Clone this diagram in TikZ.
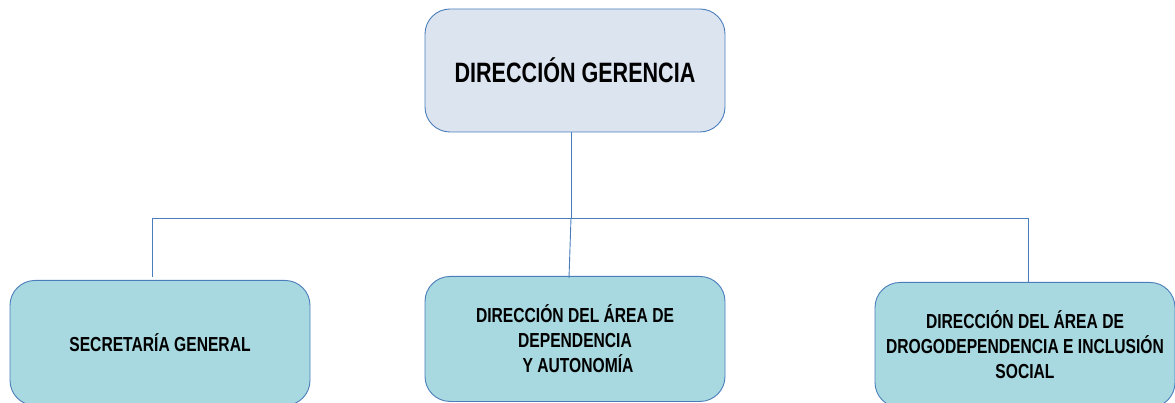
\documentclass[tikz,border=0pt]{standalone}
\usepackage{fontspec}
\newfontfamily\narrowfont[FakeStretch=0.77]{Liberation Sans Bold}
\definecolor{lineblue}{HTML}{4A7EBB}
\definecolor{topfill}{HTML}{DCE4F0}
\definecolor{boxfill}{HTML}{A8D8E0}
\tikzset{
  topbox/.style={draw=lineblue, line width=0.9pt, fill=topfill, rounded corners=25pt,
    minimum width=300pt, minimum height=123pt, inner sep=0pt,
    font=\narrowfont\fontsize{28}{30}\selectfont, text=black},
  unitbox/.style={draw=lineblue, line width=0.9pt, fill=boxfill, rounded corners=25pt,
    minimum width=300pt, minimum height=125pt, inner sep=0pt, align=center, anchor=north,
    font=\narrowfont\fontsize{20.3}{25}\selectfont, text=black},
  conn/.style={draw=lineblue, line width=0.9pt}
}
\begin{document}
\begin{tikzpicture}[x=1pt,y=-1pt]
\useasboundingbox (0,0) rectangle (1175,403);
\node[topbox] (top) at (575,70.5) {DIRECCIÓN GERENCIA};
\node[unitbox] (sg) at (160,280) {SECRETARÍA GENERAL};
\node[unitbox] (dad) at (575,276) {DIRECCIÓN DEL ÁREA DE\\DEPENDENCIA\\\hspace*{6pt}Y AUTONOMÍA};
\node[unitbox] (ddis) at (1025,282) {DIRECCIÓN DEL ÁREA DE\\DROGODEPENDENCIA E INCLUSIÓN\\SOCIAL};
\coordinate (hl) at (152,218);
\coordinate (hm) at (571,218);
\coordinate (hr) at (1028,218);
\coordinate (sgend) at (152,277);
\coordinate (dadend) at (569,278);
\draw[conn] (top.south -| hm) -- (hm);
\draw[conn] (hl) -- (hr);
\draw[conn] (hl) -- (sgend);
\draw[conn] (hm) -- (dadend);
\draw[conn] (hr) -- (hr |- ddis.north);
\end{tikzpicture}
\end{document}
